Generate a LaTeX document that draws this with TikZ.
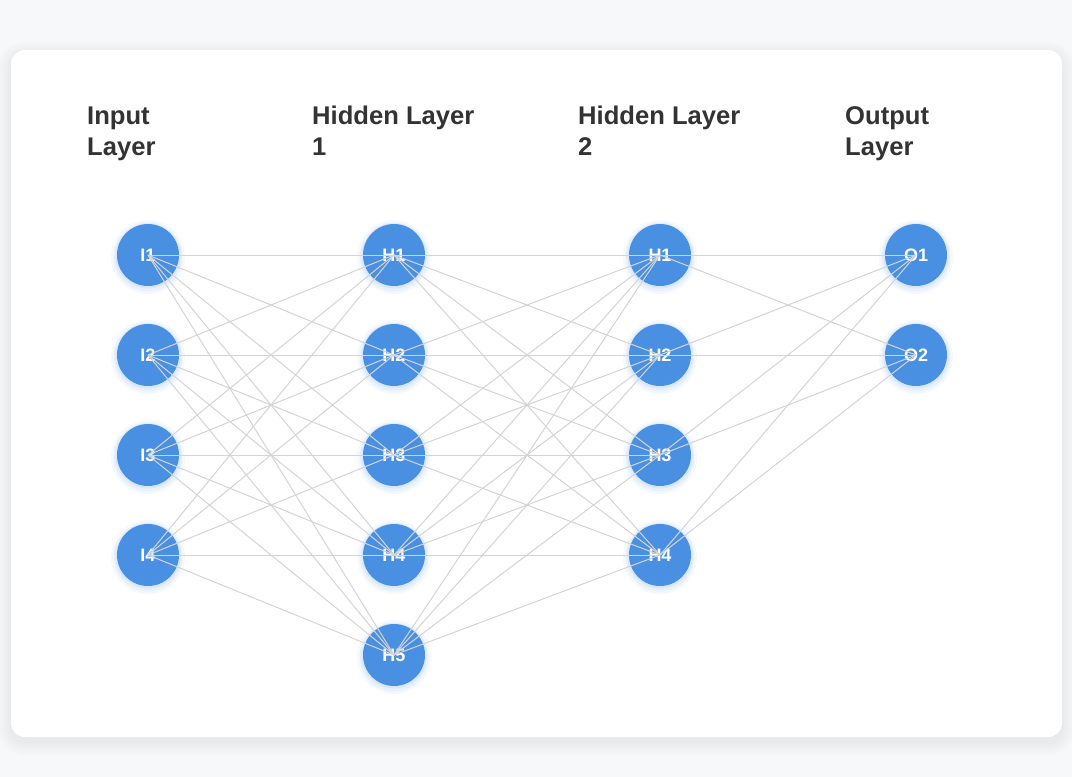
\documentclass[tikz,border=0pt]{standalone}
\usepackage{fontspec}
\setmainfont{Liberation Sans}
\definecolor{nodeblue}{HTML}{4A90E2}
\definecolor{textdark}{HTML}{333333}
\definecolor{bgcol}{HTML}{F7F8FA}
\definecolor{edgegray}{HTML}{D4D4D4}
\begin{document}
\begin{tikzpicture}[x=1pt,y=-1pt,
  neuron/.style={circle, fill=nodeblue, minimum size=62pt, inner sep=0pt, text=white,
    font=\bfseries\fontsize{18}{18}\selectfont},
  edge/.style={draw=edgegray, line width=1pt},
  header/.style={anchor=base west, align=left, text=textdark, inner sep=0pt,
    font=\bfseries\fontsize{25.6}{31}\selectfont}]
\useasboundingbox (0,0) rectangle (1072,777);
\fill[bgcol] (0,0) rectangle (1072,777);
% card shadow
\foreach \k in {1,...,14}{
  \fill[black, opacity=0.005, rounded corners=14pt+\k pt] (11-\k,50-\k+5) rectangle (1062+\k,737+\k+5);
}
\fill[white, rounded corners=14pt] (11,50) rectangle (1062,737);
% headers
\node[header] (hin) at (87,155) {Input\\Layer};
\node[header] (hh1) at (312,155) {Hidden Layer\\1};
\node[header] (hh2) at (578,155) {Hidden Layer\\2};
\node[header] (hout) at (845,155) {Output\\Layer};
% glows
\foreach \x/\n in {148/4,394/5,660/4,916/2}{
  \foreach \j in {1,...,\n}{
    \fill[nodeblue, opacity=0.05] (\x,255+100*\j-100+2) circle (37);
    \fill[nodeblue, opacity=0.07] (\x,255+100*\j-100+2) circle (34.5);
    \fill[nodeblue, opacity=0.09] (\x,255+100*\j-100+1) circle (32.5);
  }
}
% neurons
\foreach \j in {1,...,4}{ \node[neuron] (I\j) at (148,155+100*\j) {I\j}; }
\foreach \j in {1,...,5}{ \node[neuron] (A\j) at (394,155+100*\j) {H\j}; }
\foreach \j in {1,...,4}{ \node[neuron] (B\j) at (660,155+100*\j) {H\j}; }
\foreach \j in {1,...,2}{ \node[neuron] (O\j) at (916,155+100*\j) {O\j}; }
% connections
\foreach \i in {1,...,4}{\foreach \j in {1,...,5}{ \draw[edge] (I\i.center) -- (A\j.center); }}
\foreach \i in {1,...,5}{\foreach \j in {1,...,4}{ \draw[edge] (A\i.center) -- (B\j.center); }}
\foreach \i in {1,...,4}{\foreach \j in {1,...,2}{ \draw[edge] (B\i.center) -- (O\j.center); }}
\end{tikzpicture}
\end{document}
